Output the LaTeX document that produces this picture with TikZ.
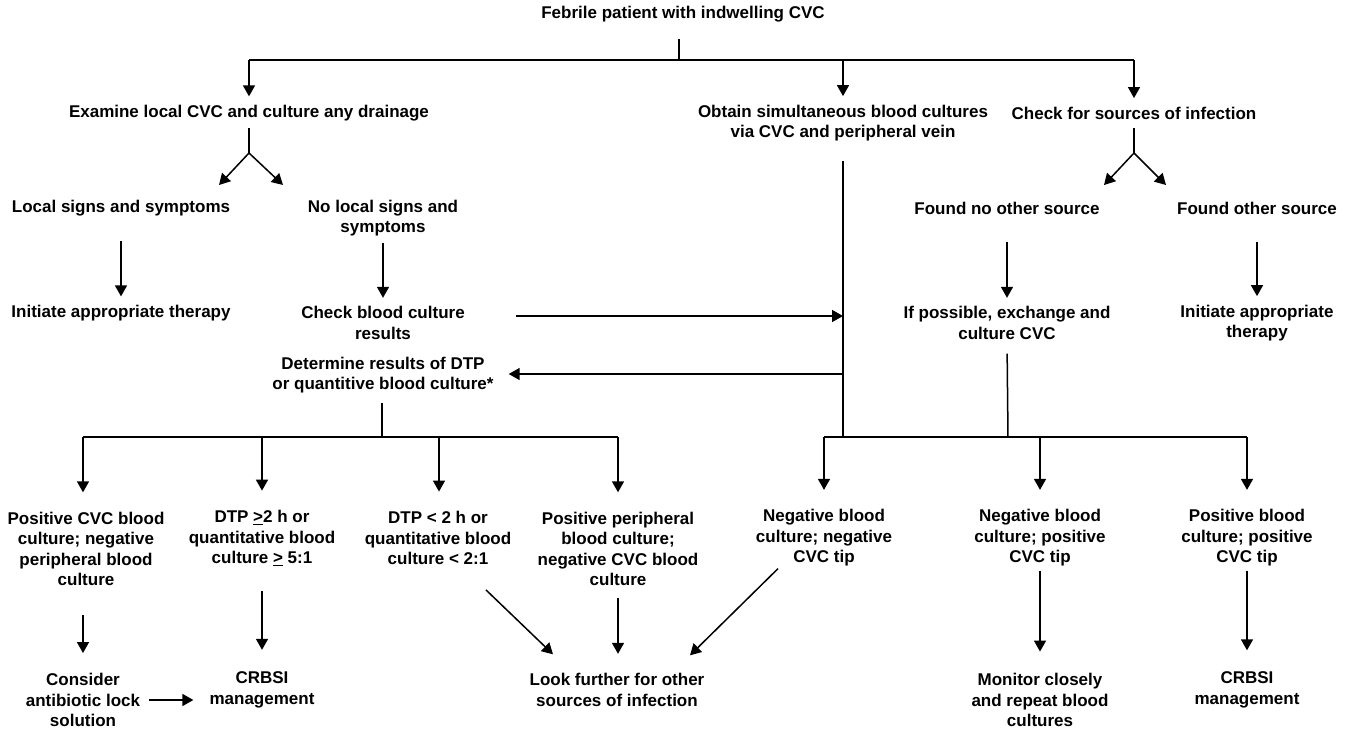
\documentclass[tikz,border=0pt]{standalone}
\usepackage{fontspec}
\setmainfont{Liberation Sans}
\usetikzlibrary{arrows.meta,calc}
\tikzset{
  txt/.style={font=\fontsize{17}{20.5}\selectfont\bfseries, align=center, inner sep=0pt},
  arr/.style={-{Triangle[length=11pt,width=12pt]}, line width=1.5pt},
  ln/.style={line width=1.5pt},
}

\begin{document}
\begin{tikzpicture}[x=1pt,y=-1pt]
		%%%%% START %%%%%
		\useasboundingbox (0,0) rectangle (1350,729);

		\node[txt] (febrile) at (683,14) {Febrile patient with indwelling CVC};

		\node[txt] (exam) at (249,113) {Examine local CVC and culture any drainage};
		\node[txt] (obtain) at (843,123) {Obtain simultaneous blood cultures\\via CVC and peripheral vein};
		\node[txt] (check) at (1134,113) {Check for sources of infection};

		\node[txt] (local) at (121,208) {Local signs and symptoms};
		\node[txt] (nolocal) at (383,218) {No local signs and\\symptoms};
		\node[txt] (found) at (1007,208) {Found no other source};
		\node[txt] (other) at (1257,208) {Found other source};

		\node[txt] (initL) at (121,313) {Initiate appropriate therapy};
		\node[txt] (chkres) at (383,323) {Check blood culture\\results};
		\node[txt] (ifposs) at (1007,323) {If possible, exchange and\\culture CVC};
		\node[txt] (initR) at (1257,323) {Initiate appropriate\\therapy};

		\node[txt] (determ) at (383,375) {Determine results of DTP\\or quantitive blood culture*};

		% results row
		\node[txt] (c1) at (86,549) {Positive CVC blood\\culture; negative\\peripheral blood\\culture};
		\node[txt] (c2) at (262,538) {DTP \underline{>}2 h or\\quantitative blood\\culture \underline{>} 5:1};
		\node[txt] (c3) at (438,538) {DTP < 2 h or\\quantitative blood\\culture < 2:1};
		\node[txt] (c4) at (618,549) {Positive peripheral\\blood culture;\\negative CVC blood\\culture};
		\node[txt] (c5) at (824,538) {Negative blood\\culture; negative\\CVC tip};
		\node[txt] (c6) at (1040,538) {Negative blood\\culture; positive\\CVC tip};
		\node[txt] (c7) at (1247,538) {Positive blood\\culture; positive\\CVC tip};

		% actions row
		\node[txt] (cons) at (83,700) {Consider\\antibiotic lock\\solution};
		\node[txt] (crbsiA) at (262,690) {CRBSI\\management};
		\node[txt] (look) at (617,690) {Look further for other\\sources of infection};
		\node[txt] (monitor) at (1040,700) {Monitor closely\\and repeat blood\\cultures};
		\node[txt] (crbsiB) at (1247,690) {CRBSI\\management};

		% top bar
		\coordinate (t0) at (679,60);
		\coordinate (tL) at (249,60);
		\coordinate (tM) at (843,60);
		\coordinate (tR) at (1134,60);
		\draw[ln, shorten <=17pt] (febrile.south -| t0) -- (t0);
		\draw[ln] (tL) -- (tR);
		\draw[arr, shorten >=8.5pt] (tL) -- (tL |- exam.north);
		\draw[arr, shorten >=8.5pt] (tM) -- (tM |- obtain.north);
		\draw[arr, shorten >=8.5pt] (tR) -- (tR |- check.north);

		% forks
		\coordinate (yL) at (249,153);
		\coordinate (yLa) at (219,185);
		\coordinate (yLb) at (283,185);
		\draw[ln, shorten <=7pt] (exam.south) -- (yL);
		\draw[arr] (yL) -- (yLa);
		\draw[arr] (yL) -- (yLb);

		\coordinate (yR) at (1134,153);
		\coordinate (yRa) at (1104,185);
		\coordinate (yRb) at (1166,185);
		\draw[ln, shorten <=9pt] (check.south) -- (yR);
		\draw[arr] (yR) -- (yRa);
		\draw[arr] (yR) -- (yRb);

		\draw[arr, shorten <=25pt, shorten >=8.5pt] (local.south) -- (initL.north);
		\draw[arr, shorten <=7pt, shorten >=8.5pt] (nolocal.south) -- (chkres.north);
		\draw[arr, shorten <=28pt, shorten >=8.5pt] (found.south) -- (ifposs.north);
		\draw[arr, shorten <=28pt, shorten >=8.5pt] (other.south) -- (initR.north);

		% middle line
		\coordinate (vA) at (843,316);
		\coordinate (vB) at (843,374);
		\coordinate (oB) at (843,437);
		\draw[ln, shorten <=20pt] (obtain.south) -- (oB);
		\draw[arr, shorten <=51pt] (chkres.east |- vA) -- (vA);
		\draw[arr, shorten >=15pt] (vB) -- (determ.east |- vB);

		% left bar
		\coordinate (dB) at (382,437);
		\coordinate (lA) at (83,437);
		\coordinate (lB) at (262,437);
		\coordinate (lC) at (439,437);
		\coordinate (lD) at (618,437);
		\draw[ln, shorten <=10pt] (determ.south -| dB) -- (dB);
		\draw[ln] (lA) -- (lD);
		\foreach \p/\n in {lA/c1, lB/c2, lC/c3, lD/c4}
			\draw[arr, shorten >=19.5pt] (\p) -- (\p |- \n.north);

		% right bar
		\coordinate (iB) at (1008,437);
		\coordinate (rL) at (824,437);
		\coordinate (rM) at (1040,437);
		\coordinate (rR) at (1247,437);
		\draw[ln, shorten <=14pt] (ifposs.south) -- (iB);
		\draw[ln] (rL) -- (rR);
		\foreach \p/\n in {rL/c5, rM/c6, rR/c7}
			\draw[arr, shorten >=19.5pt] (\p) -- (\p |- \n.north);

		% to actions
		\draw[arr, shorten <=29pt, shorten >=20pt] (cons |- c1.south) -- (cons.north);
		\draw[arr, shorten <=25pt, shorten >=22pt] (c2.south) -- (crbsiA.north);
		\draw[arr] ($(c3.south)+(48,25)$) -- ($(look.north)+(-64,-19)$);
		\draw[arr, shorten <=12pt, shorten >=19.5pt] (c4.south) -- (c4.south |- look.north);
		\draw[arr] ($(c5.south)+(-46,2)$) -- ($(look.north)+(73,-18)$);
		\draw[arr, shorten <=4pt, shorten >=21.5pt] (c6.south) -- (monitor.north);
		\draw[arr, shorten <=4pt, shorten >=21.5pt] (c7.south) -- (crbsiB.north);
		\draw[arr, shorten <=9pt, shorten >=16pt] (cons.east) -- (cons.east -| crbsiA.west);

		%%%%% END %%%%%
\end{tikzpicture}
\end{document}
